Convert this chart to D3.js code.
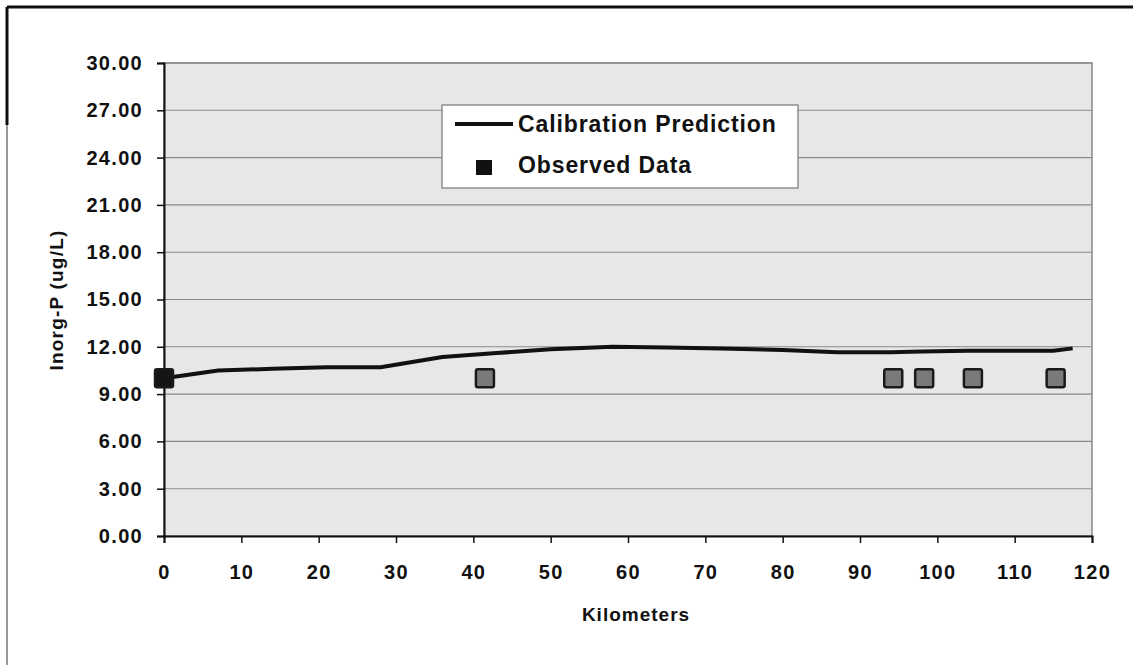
<!DOCTYPE html>
<html lang="en">
<head>
<meta charset="UTF-8">
<title>Inorg-P calibration</title>
<script src="https://d3js.org/d3.v7.min.js"></script>
<style>
  body { margin: 0; background: #fff; }
  text { font-family: "Liberation Sans", Arial, sans-serif; font-weight: bold; fill: #111; }
</style>
</head>
<body>
<svg width="1133" height="665"></svg>
<script>
// calibration prediction (km, ug/L)
var predKm  = [0, 7, 14, 21, 28, 36, 43, 50, 58, 65, 72, 80, 87, 94, 98, 104, 110, 115, 117.5];
var predVal = [10.0, 10.5, 10.6, 10.7, 10.7, 11.35, 11.6, 11.85, 12.0, 11.95, 11.9, 11.8, 11.65, 11.65, 11.7, 11.75, 11.75, 11.75, 11.9];

// observed data
var obsKm  = [0, 41.5, 94.3, 98.3, 104.6, 115.3];
var obsVal = [10.0, 10.0, 10.0, 10.0, 10.0, 10.0];

var xTicks = d3.range(0, 121, 10);
var yTicks = d3.range(0, 30.01, 3);

var svg = d3.select("svg");
var pLeft = 164, pRight = 1092, pTop = 63, pBottom = 536;

var x = d3.scaleLinear().domain([0, 120]).range([pLeft, pRight]);
var y = d3.scaleLinear().domain([0, 30]).range([pBottom, pTop]);

// outer frame
svg.append("line").attr("x1", 7).attr("x2", 1133).attr("y1", 7).attr("y2", 7)
  .attr("stroke", "#111").attr("stroke-width", 3);
svg.append("line").attr("x1", 7).attr("x2", 7).attr("y1", 7).attr("y2", 125)
  .attr("stroke", "#111").attr("stroke-width", 3);
svg.append("line").attr("x1", 7).attr("x2", 7).attr("y1", 125).attr("y2", 665)
  .attr("stroke", "#777").attr("stroke-width", 1.5);

// plot background
svg.append("rect").attr("x", pLeft).attr("y", pTop)
  .attr("width", pRight - pLeft).attr("height", pBottom - pTop)
  .attr("fill", "#e7e7e7").attr("stroke", "#888").attr("stroke-width", 1.5);

// gridlines
svg.append("g").selectAll("line").data(yTicks.slice(1)).join("line")
  .attr("x1", pLeft).attr("x2", pRight)
  .attr("y1", d => y(d)).attr("y2", d => y(d))
  .attr("stroke", "#8a8a8a").attr("stroke-width", 1.1);

function styleAxis(g) {
  g.select(".domain").attr("stroke", "#111").attr("stroke-width", 2);
  g.selectAll(".tick line").attr("stroke", "#111").attr("stroke-width", 1.5);
  g.selectAll("text").style("font-size", "20px").style("font-family", "Liberation Sans, Arial, sans-serif")
    .style("font-weight", "bold").style("letter-spacing", "1.3px").attr("fill", "#111");
}

// y axis
svg.append("g").attr("transform", "translate(" + pLeft + ",0)")
  .call(d3.axisLeft(y).tickValues(yTicks).tickFormat(d3.format(".2f")).tickSize(7).tickPadding(14))
  .call(styleAxis);

// x axis
svg.append("g").attr("transform", "translate(0," + pBottom + ")")
  .call(d3.axisBottom(x).tickValues(xTicks).tickSize(7).tickPadding(22))
  .call(styleAxis);

// axis titles
svg.append("text").attr("x", 636).attr("y", 621).attr("text-anchor", "middle")
  .style("font-size", "19px").style("letter-spacing", "1px").text("Kilometers");
svg.append("text").attr("transform", "translate(63,300) rotate(-90)").attr("text-anchor", "middle")
  .style("font-size", "19px").style("letter-spacing", "1.2px").text("Inorg-P (ug/L)");

// prediction line
var pts = predKm.map((k, i) => [k, predVal[i]]);
svg.append("path").datum(pts)
  .attr("d", d3.line().x(d => x(d[0])).y(d => y(d[1])))
  .attr("fill", "none").attr("stroke", "#111").attr("stroke-width", 4)
  .attr("stroke-linejoin", "round");

// observed markers
var obs = obsKm.map((k, i) => [k, obsVal[i]]);
svg.append("g").selectAll("rect").data(obs).join("rect")
  .attr("x", d => x(d[0]) - 9).attr("y", d => y(d[1]) - 9)
  .attr("width", 18).attr("height", 18).attr("rx", 2)
  .attr("fill", (d, i) => i === 0 ? "#151515" : "#7a7a7a")
  .attr("stroke", "#1a1a1a").attr("stroke-width", 2.5);

// legend
var lg = svg.append("g");
lg.append("rect").attr("x", 442).attr("y", 105).attr("width", 356).attr("height", 83)
  .attr("fill", "#fff").attr("stroke", "#777").attr("stroke-width", 1.2);
lg.append("line").attr("x1", 455).attr("x2", 513).attr("y1", 124).attr("y2", 124)
  .attr("stroke", "#111").attr("stroke-width", 4);
lg.append("text").attr("x", 518).attr("y", 132).style("font-size", "23px").style("letter-spacing", "0.9px")
  .text("Calibration Prediction");
lg.append("rect").attr("x", 476).attr("y", 160).attr("width", 16).attr("height", 15)
  .attr("fill", "#111");
lg.append("text").attr("x", 518).attr("y", 173).style("font-size", "23px").style("letter-spacing", "0.9px")
  .text("Observed Data");
</script>
</body>
</html>
